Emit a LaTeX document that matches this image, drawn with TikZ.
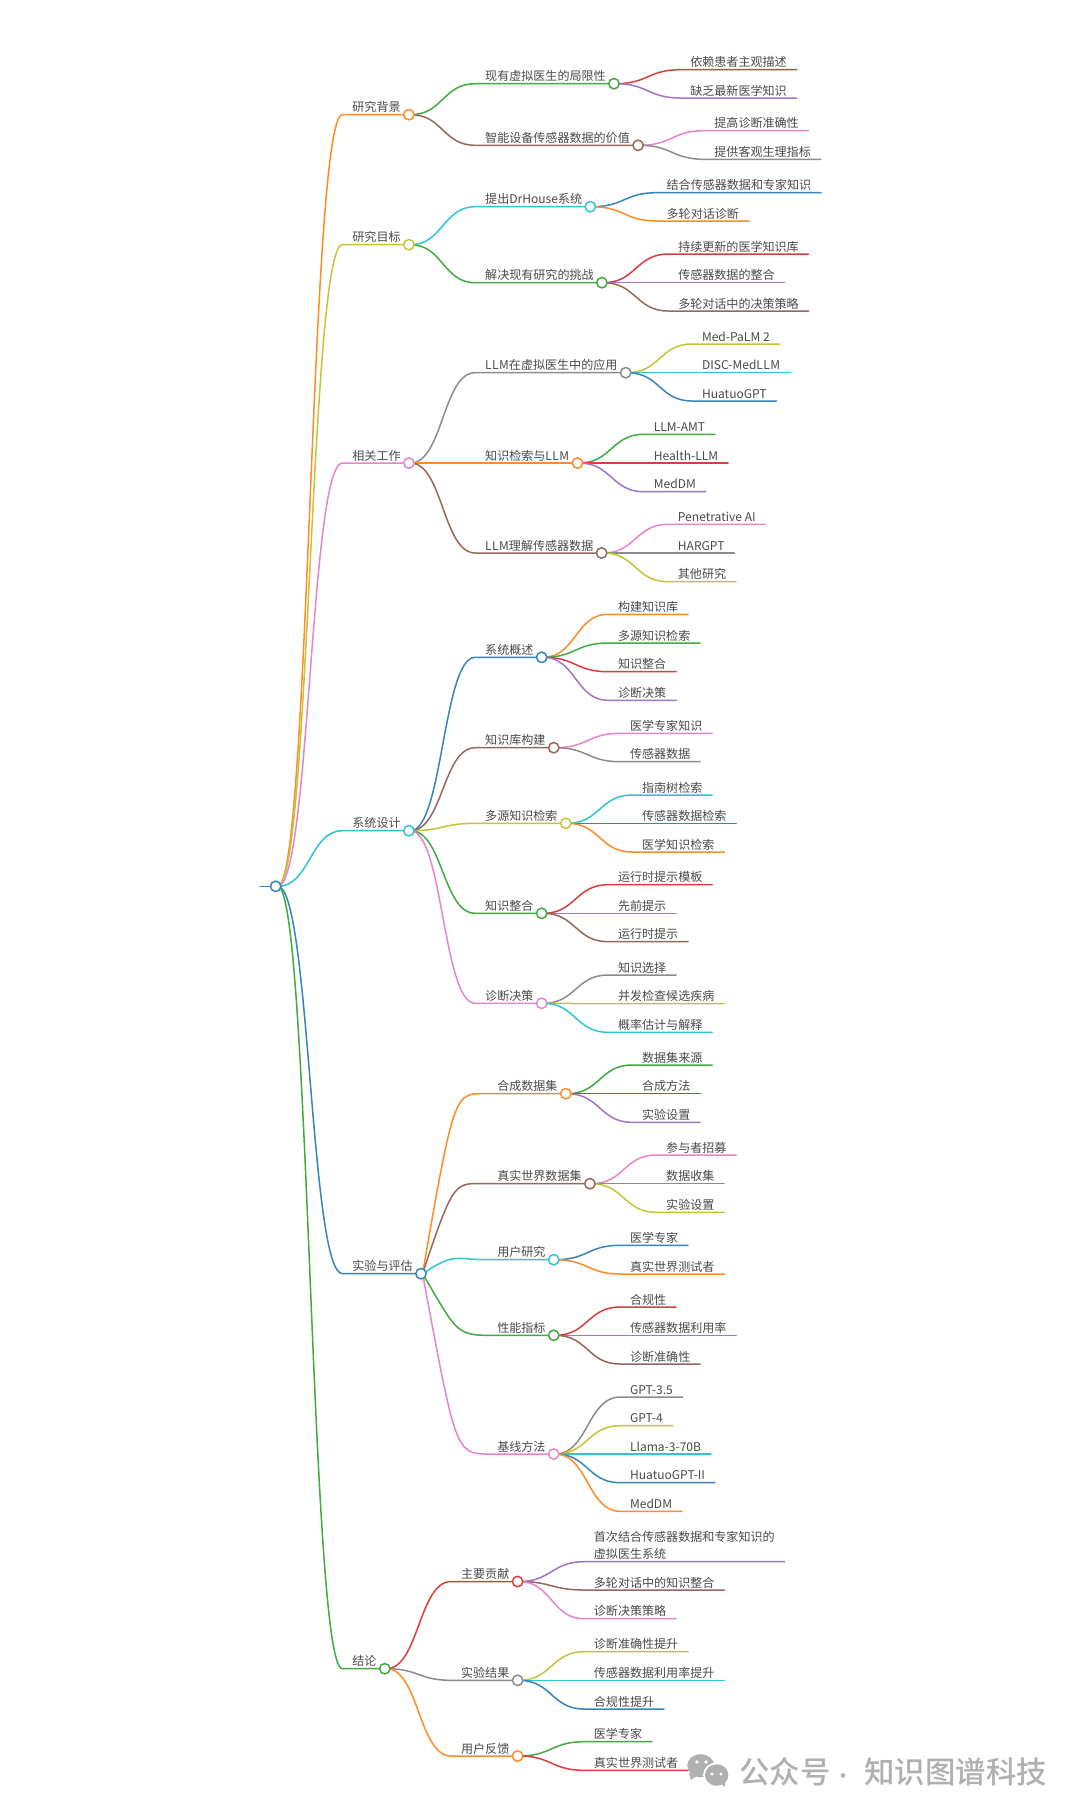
\documentclass[tikz,border=0pt]{standalone}
\usepackage{fontspec}
\setmainfont{Noto Sans CJK SC}
\newfontfamily\wmfont{Noto Sans CJK SC Medium}
\pgfdeclarelayer{fg}
\pgfsetlayers{main,fg}
\definecolor{bBlue}{HTML}{1F77B4}
\definecolor{bOrange}{HTML}{FF7F0E}
\definecolor{bGreen}{HTML}{2CA02C}
\definecolor{bRed}{HTML}{D62728}
\definecolor{bPurple}{HTML}{9467BD}
\definecolor{bBrown}{HTML}{8C564B}
\definecolor{bPink}{HTML}{E377C2}
\definecolor{bGray}{HTML}{7F7F7F}
\definecolor{bOlive}{HTML}{BCBD22}
\definecolor{bCyan}{HTML}{17BECF}
\colorlet{cBlue}{bBlue!90!white}
\colorlet{cOrange}{bOrange!90!white}
\colorlet{cGreen}{bGreen!90!white}
\colorlet{cRed}{bRed!90!white}
\colorlet{cPurple}{bPurple!90!white}
\colorlet{cBrown}{bBrown!90!white}
\colorlet{cPink}{bPink!90!white}
\colorlet{cGray}{bGray!90!white}
\colorlet{cOlive}{bOlive!90!white}
\colorlet{cCyan}{bCyan!90!white}
\definecolor{cInk}{HTML}{4A4A4A}
\definecolor{cMark}{HTML}{B0B0B0}
\tikzset{
  mmlink/.style={line width=1.5pt,line cap=round},
  mmlabel/.style={inner sep=0pt,outer sep=0pt,anchor=base west,text=cInk,font=\fontsize{12.05pt}{17.3pt}\selectfont,align=left},
  mmdot/.style={circle,fill=white,line width=1.5pt,minimum size=10.4pt,inner sep=0pt,outer sep=0pt},
  wmtext/.style={inner sep=0pt,anchor=base west,text=cMark,font=\wmfont\fontsize{30.4pt}{32pt}\selectfont},
}
% id, parent, node text, y, colour
\newcommand\mmcore[5]{%
  \pgfmathsetmacro\mmxt{\csname mmout#2\endcsname+74.7}%
  \pgfmathsetmacro\mmxi{\mmxt-10}%
  \pgfmathsetmacro\mmxm{0.5*(\csname mmout#2\endcsname+\mmxi)}%
  \node[mmlabel] (#1) at (\mmxt,#4-3) {#3};
  \pgfpointanchor{#1}{east}\pgfgetlastxy{\mmxe}{\mmye}%
  \pgfmathsetmacro\mmxo{\mmxe+9.9}%
  \expandafter\xdef\csname mmout#1\endcsname{\mmxo}%
  \expandafter\xdef\csname mmy#1\endcsname{#4}%
  \coordinate (#1-in) at (\mmxi,#4);
  \coordinate (#1-out) at (\mmxo,#4);
  \draw[mmlink,#5] (#2-out) .. controls (\mmxm,\csname mmy#2\endcsname) and (\mmxm,#4) .. (#1-in) -- (#1-out);
}
\newcommand\LF[5]{\mmcore{#1}{#2}{#3}{#4}{#5}}
\newcommand\BR[5]{\mmcore{#1}{#2}{#3}{#4}{#5}%
  \begin{pgfonlayer}{fg}\node[mmdot,draw=#5] (#1-dot) at (\mmxo-1.6,#4) {};\end{pgfonlayer}}
\newcommand\LLMw{L\kern.45pt L\kern.45pt M}
\begin{document}
\begin{tikzpicture}[x=1pt,y=-1pt]
\useasboundingbox (0,0) rectangle (1080,1816);
\fill[white] (0,0) rectangle (1080,1816);
% root
\gdef\mmoutR{277.7}\gdef\mmyR{886.3}
\coordinate (R-in) at (260,886.3);
\coordinate (R-out) at (277.7,886.3);
\draw[mmlink,cBlue] (R-in) -- (R-out);
\begin{pgfonlayer}{fg}\node[mmdot,draw=cBlue] (R-dot) at (275.7,886.3) {};\end{pgfonlayer}
% 研究背景
\BR{a}{R}{研究背景}{114.7}{cOrange}
\BR{aa}{a}{现有虚拟医生的局限性}{83.7}{cGreen}
\LF{aaa}{aa}{依赖患者主观描述}{69.7}{cRed}
\LF{aab}{aa}{缺乏最新医学知识}{98}{cPurple}
\BR{ab}{a}{智能设备传感器数据的价值}{145.3}{cBrown}
\LF{aba}{ab}{提高诊断准确性}{130.7}{cPink}
\LF{abb}{ab}{提供客观生理指标}{159.3}{cGray}
% 研究目标
\BR{b}{R}{研究目标}{244.7}{cOlive}
\BR{ba}{b}{提出DrHouse系统}{206.7}{cCyan}
\LF{baa}{ba}{结合传感器数据和专家知识}{192.7}{cBlue}
\LF{bab}{ba}{多轮对话诊断}{221}{cOrange}
\BR{bb}{b}{解决现有研究的挑战}{282.7}{cGreen}
\LF{bba}{bb}{持续更新的医学知识库}{254}{cRed}
\LF{bbb}{bb}{传感器数据的整合}{282.7}{cPurple}
\LF{bbc}{bb}{多轮对话中的决策策略}{311}{cBrown}
% 相关工作
\BR{c}{R}{相关工作}{463}{cPink}
\BR{ca}{c}{\LLMw 在虚拟医生中的应用}{372.7}{cGray}
\LF{caa}{ca}{Med-PaLM 2}{344}{cOlive}
\LF{cab}{ca}{DISC-Med\LLMw}{372.7}{cCyan}
\LF{cac}{ca}{HuatuoGPT}{401}{cBlue}
\BR{cb}{c}{知识检索与\LLMw}{463}{cOrange}
\LF{cba}{cb}{LLM-AMT}{434.3}{cGreen}
\LF{cbb}{cb}{Health-LLM}{463}{cRed}
\LF{cbc}{cb}{MedDM}{491.7}{cPurple}
\BR{cc}{c}{\LLMw 理解传感器数据}{553}{cBrown}
\LF{cca}{cc}{Penetrative AI}{524.3}{cPink}
\LF{ccb}{cc}{HARGPT}{553}{cGray}
\LF{ccc}{cc}{其他研究}{581.7}{cOlive}
% 系统设计
\BR{d}{R}{系统设计}{830.7}{cCyan}
\BR{da}{d}{系统概述}{657.3}{cBlue}
\LF{daa}{da}{构建知识库}{614.3}{cOrange}
\LF{dab}{da}{多源知识检索}{643}{cGreen}
\LF{dac}{da}{知识整合}{671.7}{cRed}
\LF{dad}{da}{诊断决策}{700.3}{cPurple}
\BR{db}{d}{知识库构建}{747.7}{cBrown}
\LF{dba}{db}{医学专家知识}{733.3}{cPink}
\LF{dbb}{db}{传感器数据}{761.7}{cGray}
\BR{dc}{d}{多源知识检索}{823.3}{cOlive}
\LF{dca}{dc}{指南树检索}{795}{cCyan}
\LF{dcb}{dc}{传感器数据检索}{823.3}{cBlue}
\LF{dcc}{dc}{医学知识检索}{852}{cOrange}
\BR{dd}{d}{知识整合}{913.3}{cGreen}
\LF{dda}{dd}{运行时提示模板}{884.7}{cRed}
\LF{ddb}{dd}{先前提示}{913.3}{cPurple}
\LF{ddc}{dd}{运行时提示}{941.7}{cBrown}
\BR{de}{d}{诊断决策}{1003.3}{cPink}
\LF{dea}{de}{知识选择}{975}{cGray}
\LF{deb}{de}{并发检查候选疾病}{1003.7}{cOlive}
\LF{dec}{de}{概率估计与解释}{1032.3}{cCyan}
% 实验与评估
\BR{e}{R}{实验与评估}{1273.7}{cBlue}
\BR{ea}{e}{合成数据集}{1093.7}{cOrange}
\LF{eaa}{ea}{数据集来源}{1065}{cGreen}
\LF{eab}{ea}{合成方法}{1093.7}{cRed}
\LF{eac}{ea}{实验设置}{1122.3}{cPurple}
\BR{eb}{e}{真实世界数据集}{1183.7}{cBrown}
\LF{eba}{eb}{参与者招募}{1155}{cPink}
\LF{ebb}{eb}{数据收集}{1183.7}{cGray}
\LF{ebc}{eb}{实验设置}{1212.3}{cOlive}
\BR{ec}{e}{用户研究}{1259.7}{cCyan}
\LF{eca}{ec}{医学专家}{1245.3}{cBlue}
\LF{ecb}{ec}{真实世界测试者}{1274}{cOrange}
\BR{ed}{e}{性能指标}{1335.3}{cGreen}
\LF{eda}{ed}{合规性}{1307}{cRed}
\LF{edb}{ed}{传感器数据利用率}{1335.3}{cPurple}
\LF{edc}{ed}{诊断准确性}{1364}{cBrown}
\BR{ee}{e}{基线方法}{1454}{cPink}
\LF{eea}{ee}{GPT-3.5}{1397}{cGray}
\LF{eeb}{ee}{GPT-4}{1425.7}{cOlive}
\LF{eec}{ee}{Llama-3-70B}{1454}{cCyan}
\LF{eed}{ee}{HuatuoGPT-II}{1482.7}{cBlue}
\LF{eee}{ee}{MedDM}{1511.3}{cOrange}
% 结论
\BR{f}{R}{结论}{1668.7}{cGreen}
\BR{fa}{f}{主要贡献}{1581.5}{cRed}
\LF{faa}{fa}{首次结合传感器数据和专家知识的\\虚拟医生系统}{1561.7}{cPurple}
\LF{fab}{fa}{多轮对话中的知识整合}{1590}{cBrown}
\LF{fac}{fa}{诊断决策策略}{1618.7}{cPink}
\BR{fb}{f}{实验结果}{1680.3}{cGray}
\LF{fba}{fb}{诊断准确性提升}{1651.7}{cOlive}
\LF{fbb}{fb}{传感器数据利用率提升}{1680.3}{cCyan}
\LF{fbc}{fb}{合规性提升}{1709}{cBlue}
\BR{fc}{f}{用户反馈}{1756}{cOrange}
\LF{fca}{fc}{医学专家}{1741.7}{cGreen}
\LF{fcb}{fc}{真实世界测试者}{1770.3}{cRed}
% watermark
\begin{pgfonlayer}{fg}
\fill[cMark] (700.7,1765.7) ellipse[x radius=13.5,y radius=11.5];
\fill[cMark] (689,1773) -- (691,1780) -- (698,1775) -- cycle;
\fill[white] (716.7,1775) ellipse[x radius=13.6,y radius=12.6];
\fill[cMark] (716.7,1775) ellipse[x radius=11.7,y radius=10.8];
\fill[cMark] (720,1783) -- (725,1787) -- (725,1781) -- cycle;
\fill[white] (697,1762) circle[radius=1.8];
\fill[white] (706,1762) circle[radius=1.8];
\fill[white] (712,1774) circle[radius=1.6];
\fill[white] (721,1774) circle[radius=1.6];
\node[wmtext] (wm) at (739,1783) {公众号\kern-3.8pt{} {\fontsize{20pt}{20pt}\selectfont ·} \kern4.3pt{}知识图谱科技};
\end{pgfonlayer}
\end{tikzpicture}
\end{document}
